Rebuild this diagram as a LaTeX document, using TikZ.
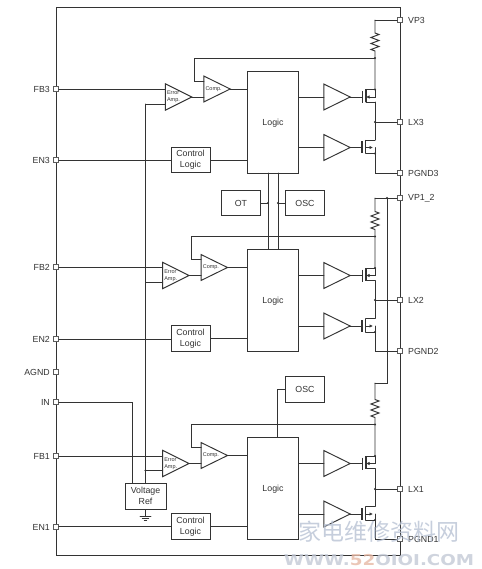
\documentclass[tikz,border=0pt]{standalone}
\usepackage{fontspec}
\setmainfont{Liberation Sans}
\newfontfamily\wmcjk{Noto Sans CJK SC}
\newfontfamily\wmlat{DejaVu Sans}
\usetikzlibrary{calc,arrows.meta}
\definecolor{ink}{HTML}{333333}
\definecolor{wmblue}{HTML}{B8C2D4}
\definecolor{wmgrey}{HTML}{C4CAD6}
\definecolor{wmred}{HTML}{E6B9A6}
\newcommand{\dn}[1]{\raisebox{-0.9pt}[7pt][2pt]{#1}}
\tikzset{
  wire/.style={draw=ink,line width=0.95pt,line cap=round,line join=miter},
  box/.style={wire,fill=white,rectangle,inner sep=0pt,align=center,text=ink,font=\fontsize{8.8}{11}\selectfont},
  pinbox/.style={draw=ink!80,fill=white,rectangle,line width=0.9pt,minimum size=5pt,inner sep=0pt},
  pinlab/.style={text=ink,font=\fontsize{8.8}{10}\selectfont,inner sep=0pt},
  tribox/.style={rectangle,inner sep=0pt,inner xsep=1.5pt,align=left,text=ink,font=\fontsize{5.5}{7}\selectfont},
  jdot/.style={circle,fill=ink,inner sep=0pt,minimum size=2.4pt},
  mosgate/.style={draw=ink,line width=1.2pt},
  watermark/.style={inner sep=0pt,opacity=0.8}
}
\newcommand{\tri}[6]{% name, cx, cy, w, h, text
  \node[tribox,minimum height=#5pt,text width={#4pt-3pt}] (#1) at (#2,#3) {#6};
  \draw[wire] (#1.north west) -- (#1.east) -- (#1.south west) -- cycle;
}
\newcommand{\pinL}[3]{% id, label, y
  \node[pinbox] (p#1) at (56,#3) {};
  \node[pinlab,anchor=east] (l#1) at (50,#3+0.8) {#2};
}
\newcommand{\pinR}[3]{%
  \node[pinbox] (p#1) at (400,#3) {};
  \node[pinlab,anchor=west] (l#1) at (408,#3+0.8) {#2};
}
% channel: id, logic top y, x shift of amps, node above resistor, FB pin, EN pin, LX pin, PGND pin
\newcommand{\channel}[8]{%
  \node[box,minimum width=51pt,minimum height=102pt] (logic#1) at (273,{#2+51}) {\dn{Logic}};
  \tri{bufa#1}{337}{#2+26}{26}{25.5}{}
  \tri{bufb#1}{337}{#2+76.5}{26}{25.5}{}
  \tri{comp#1}{{#3+217}}{#2+18}{26}{25.5}{\raisebox{1.2pt}{Comp.}}
  \tri{err#1}{{#3+178.5}}{#2+26}{26}{26}{Error\\[-0.3pt]Amp.}
  \node[box,minimum width=39pt,minimum height=25.5pt] (ctl#1) at (190.5,{#2+89.2}) {Control\\Logic};
  % high side FET
  \coordinate (ga#1) at (362.5,{#2+26});
  \coordinate (cha#1) at (366,{#2+26});
  \coordinate (sa#1) at (375,{#2+18.5});
  \coordinate (da#1) at (375,{#2+31});
  \coordinate (ma#1) at (375,{#2+26});
  \coordinate (gb#1) at (362,{#2+76.5});
  \coordinate (chb#1) at (365.5,{#2+76.5});
  \coordinate (db#1) at (375,{#2+69});
  \coordinate (sb#1) at (375,{#2+82.5});
  \coordinate (mb#1) at (375,{#2+76.5});
  \draw[wire] (bufa#1.east) -- (ga#1);
  \draw[wire] (bufb#1.east) -- (gb#1);
  \draw[mosgate] ($(ga#1)+(0,-6)$) -- ($(ga#1)+(0,6)$);
  \draw[mosgate] ($(gb#1)+(0,-6)$) -- ($(gb#1)+(0,6)$);
  \draw[mosgate] ($(cha#1)+(0,-7.5)$) -- ($(cha#1)+(0,5)$);
  \draw[mosgate] ($(chb#1)+(0,-7.5)$) -- ($(chb#1)+(0,6)$);
  \draw[wire] ($(cha#1)+(0,-7.5)$) -- (sa#1);
  \draw[wire] ($(cha#1)+(0,5)$) -- (da#1);
  \draw[wire] ($(chb#1)+(0,-7.5)$) -- (db#1);
  \draw[wire] ($(chb#1)+(0,6)$) -- (sb#1);
  \draw[wire,-{Latex[length=3.5pt,width=3.5pt]}] (sa#1) -- (ma#1) -- (cha#1);
  \draw[wire,-{Latex[length=3.5pt,width=3.5pt]}] (chb#1) -- ($(mb#1)+(-2,0)$);
  \draw[wire] (mb#1) -- (sb#1);
  \node[jdot] at (sa#1) {};
  \node[jdot] at (sb#1) {};
  % resistor and supply
  \coordinate (rt#1) at (375,{#2-38});
  \coordinate (fb#1) at (375,{#2-13});
  \draw[wire] (#4) -- (rt#1) -- ++(4,1.5) -- ++(-8,3) -- ++(8,3) -- ++(-8,3) -- ++(8,3) -- ++(-8,3) -- ++(4,1.5) -- (fb#1) -- (sa#1);
  \draw[wire] (da#1) -- (db#1);
  % feedback
  \coordinate (fi#1) at ({#3+194},{#2+10});
  \draw[wire] (fb#1) -| (fi#1) -- (comp#1.west |- fi#1);
  \node[jdot] at (fb#1) {};
  % signals
  \draw[wire] (comp#1.east) -- (logic#1.west |- comp#1.east);
  \draw[wire] (err#1.east) -- (comp#1.west |- err#1.east);
  \draw[wire] (bufa#1.west) -- (logic#1.east |- bufa#1.west);
  \draw[wire] (bufb#1.west) -- (logic#1.east |- bufb#1.west);
  \draw[wire] (ctl#1.east) -- (logic#1.west |- ctl#1.east);
  \draw[wire] (#5) -- (err#1.west |- #5);
  \draw[wire] (#6) -- (ctl#1.west |- #6);
  \draw[wire] (#7) -- (#7 -| mb#1);
  \node[jdot] at (#7 -| mb#1) {};
  \draw[wire] (sb#1) |- (#8);
  \coordinate (vr#1) at (145.5,{#2+33});
  \draw[wire] (vr#1) -- (err#1.west |- vr#1);
}
\begin{document}
\begin{tikzpicture}[x=1pt,y=-1pt]
\useasboundingbox (0,0) rectangle (481,569);
\fill[white] (0,0) rectangle (481,569);
% package outline
\coordinate (tl) at (56,7);
\coordinate (br) at (400,555);
\draw[wire] (tl) rectangle (br);
% pins
\pinL{FBc}{FB3}{89}
\pinL{ENc}{EN3}{160}
\pinL{FBb}{FB2}{267}
\pinL{ENb}{EN2}{339}
\pinL{AG}{AGND}{372}
\pinL{IN}{IN}{402}
\pinL{FBa}{FB1}{456}
\pinL{ENa}{EN1}{526.5}
\pinR{VPc}{VP3}{20}
\pinR{LXc}{LX3}{122}
\pinR{PGc}{PGND3}{173}
\pinR{VPb}{VP1\_2}{198}
\pinR{LXb}{LX2}{300}
\pinR{PGb}{PGND2}{351}
\pinR{LXa}{LX1}{489}
\pinR{PGa}{PGND1}{539}
% supply routing
\coordinate (vcT) at (375,20);
\coordinate (vbT) at (375,198);
\coordinate (vaT) at (375,383);
\coordinate (rail) at (387,383);
\draw[wire] (pVPc) -- (vcT);
\draw[wire] (pVPb) -- (vbT);
\draw[wire] (pVPb -| rail) -- (rail) -- (vaT);
\node[jdot] at (pVPb -| rail) {};
% channels
\channel{c}{71}{0}{vcT}{pFBc}{pENc}{pLXc}{pPGc}
\channel{b}{249.5}{-2.7}{vbT}{pFBb}{pENb}{pLXb}{pPGb}
\channel{a}{437.5}{-2.7}{vaT}{pFBa}{pENa}{pLXa}{pPGa}
% voltage reference
\node[box,minimum width=41pt,minimum height=26pt] (vref) at (145.5,496) {Voltage\\Ref};
\coordinate (vin) at (132,402);
\draw[wire] (pIN) -- (vin) -- (vin |- vref.north);
\coordinate (vtop) at (145.5,104);
\draw[wire] (vref.north) -- (vtop);
\node[jdot] at (vra) {};
\coordinate (gnd) at (145.5,516);
\draw[wire] (vref.south) -- (gnd);
\draw[wire] ($(gnd)+(-5.5,0)$) -- ($(gnd)+(5.5,0)$);
\draw[wire] ($(gnd)+(-3.2,2)$) -- ($(gnd)+(3.2,2)$);
\draw[wire] ($(gnd)+(-1.2,4)$) -- ($(gnd)+(1.2,4)$);
% OT / OSC
\node[box,minimum width=38.5pt,minimum height=25.5pt] (ot) at (241,203) {\dn{OT}};
\node[box,minimum width=38.5pt,minimum height=25.5pt] (osca) at (305,203) {\dn{OSC}};
\node[box,minimum width=38.5pt,minimum height=25.5pt] (oscb) at (305,389.5) {\dn{OSC}};
\coordinate (busL) at (268,173);
\coordinate (busR) at (278,173);
\draw[wire] (busL) -- (busL |- logicb.north);
\draw[wire] (busR) -- (busR |- logicb.north);
\draw[wire] (ot.east) -- (ot.east -| busL);
\draw[wire] (osca.west) -- (osca.west -| busR);
\node[jdot] at (ot.east -| busL) {};
\node[jdot] at (osca.west -| busR) {};
\coordinate (oscT) at (277,389.5);
\draw[wire] (oscb.west) -- (oscT) -- (oscT |- logica.north);
% watermark
\node[watermark,text=wmblue,font=\wmcjk\fontsize{23}{23}\selectfont,anchor=center] (wma) at (379,532) {家电维修资料网};
\node[watermark,text=wmgrey,font=\wmlat\bfseries\fontsize{15}{15}\selectfont,anchor=center,xscale=1.22] (wmb) at (379,560) {WWW.{\color{wmred}52}OIOI.COM};
\end{tikzpicture}
\end{document}
